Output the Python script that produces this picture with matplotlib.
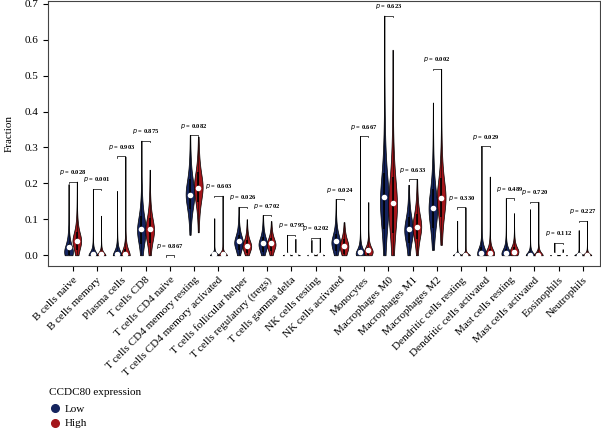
import numpy as np
import matplotlib
matplotlib.use("Agg")
import matplotlib.pyplot as plt
from matplotlib.lines import Line2D

plt.rcParams["font.family"] = ["Liberation Serif", "DejaVu Serif"]

cells = [
    "B cells naive", "B cells memory", "Plasma cells", "T cells CD8", "T cells CD4 naive",
    "T cells CD4 memory resting", "T cells CD4 memory activated", "T cells follicular helper",
    "T cells regulatory (tregs)", "T cells gamma delta", "NK cells resting", "NK cells activated",
    "Monocytes", "Macrophages M0", "Macrophages M1", "Macrophages M2", "Dendritic cells resting",
    "Dendritic cells activated", "Mast cells resting", "Mast cells activated", "Eosinophils",
    "Neutrophils",
]
p_values = ["0.028", "0.001", "0.903", "0.875", "0.867", "0.082", "0.603", "0.026", "0.702",
            "0.795", "0.202", "0.024", "0.667", "0.623", "0.633", "0.002", "0.330", "0.029",
            "0.489", "0.720", "0.112", "0.227"]

# violin summaries: bottom, widest point, spread, top, median
low_lo = [0, 0, 0, 0, 0, 0.057, 0, 0, 0, 0, 0, 0, 0, 0, 0, 0.015, 0, 0, 0, 0, 0, 0]
low_mode = [0.01, 0, 0, 0.07, 0, 0.17, 0, 0.035, 0.03, 0, 0, 0.035, 0.005, 0.15, 0.07, 0.13,
            0, 0.005, 0.005, 0, 0, 0]
low_spread = [0.035, 0.017, 0.022, 0.065, 0, 0.07, 0.009, 0.035, 0.033, 0.003, 0.003, 0.04,
              0.022, 0.13, 0.06, 0.09, 0.006, 0.028, 0.022, 0.013, 0.002, 0.006]
low_hi = [0.198, 0.185, 0.179, 0.319, 0, 0.335, 0.103, 0.135, 0.112, 0.057, 0.043, 0.157,
          0.332, 0.667, 0.196, 0.425, 0.096, 0.304, 0.159, 0.128, 0.035, 0.070]
low_med = [0.022, 0.004, 0.003, 0.074, 0, 0.168, 0.003, 0.041, 0.033, 0, 0, 0.039, 0.010,
           0.162, 0.074, 0.131, 0, 0.005, 0.005, 0, 0, 0]

high_lo = [0, 0, 0, 0, 0, 0.064, 0, 0, 0, 0, 0, 0, 0, 0, 0, 0.029, 0, 0, 0, 0, 0, 0]
high_mode = [0.04, 0, 0, 0.07, 0, 0.19, 0, 0.025, 0.03, 0, 0, 0.025, 0.01, 0.14, 0.08, 0.16,
             0, 0.005, 0.01, 0, 0, 0]
high_spread = [0.042, 0.013, 0.028, 0.058, 0, 0.07, 0.011, 0.03, 0.03, 0.003, 0.004, 0.035,
               0.022, 0.13, 0.06, 0.09, 0.008, 0.022, 0.022, 0.013, 0.002, 0.008]
high_hi = [0.205, 0.11, 0.275, 0.238, 0, 0.330, 0.166, 0.10, 0.095, 0.046, 0.049, 0.092,
           0.148, 0.572, 0.212, 0.519, 0.134, 0.219, 0.117, 0.149, 0.017, 0.096]
high_med = [0.039, 0.004, 0.003, 0.073, 0, 0.188, 0.003, 0.027, 0.033, 0, 0, 0.027, 0.015,
            0.146, 0.079, 0.158, 0, 0.005, 0.009, 0, 0, 0]

LOW_COL = "#15245e"
HIGH_COL = "#a3161b"
HALF_W = 0.18
OFFSET = 0.17


def draw_violin(ax, x, lo, mode, s, hi, med, color):
    if hi <= lo:
        return
    y = np.linspace(lo, hi, 300)
    w = HALF_W / (1 + ((y - mode) / s) ** 2) ** 1.5
    ax.fill_betweenx(y, x - w, x + w, facecolor=color, edgecolor="black", linewidth=0.5, zorder=2)
    # inner box + whisker
    ax.vlines(x, lo, hi, color="black", linewidth=0.4, zorder=3)
    ax.vlines(x, max(lo, mode - 0.6 * s), min(hi, mode + 0.6 * s), color="black",
              linewidth=1.2, zorder=3)
    ax.plot(x, med, "o", color="white", markersize=4, markeredgewidth=0, zorder=4)


fig = plt.figure(figsize=(6.01, 4.32), dpi=100)
ax = fig.add_axes([0.0805, 0.385, 0.9175, 0.613])

xs = np.arange(1, len(cells) + 1)
for i, x in enumerate(xs):
    draw_violin(ax, x - OFFSET, low_lo[i], low_mode[i], low_spread[i], low_hi[i], low_med[i], LOW_COL)
    draw_violin(ax, x + OFFSET, high_lo[i], high_mode[i], high_spread[i], high_hi[i], high_med[i], HIGH_COL)
    top = max(low_hi[i], high_hi[i])
    ax.plot([x - OFFSET, x - OFFSET, x + OFFSET, x + OFFSET],
            [top - 0.004, top, top, top - 0.004], color="black", linewidth=0.5, zorder=3)
    ax.text(x, top + 0.012, r"$\mathit{p}$ = " + p_values[i], ha="center", va="bottom",
            fontsize=4.7, fontweight="bold")

ax.set_xlim(0.0, 22.7)
ax.set_ylim(-0.029, 0.708)
ax.set_xticks(xs)
ax.set_xticklabels(cells, rotation=45, ha="right", rotation_mode="anchor", fontsize=8)
ax.set_yticks(np.arange(0, 0.71, 0.1))
ax.set_yticklabels([f"{v:.1f}" for v in np.arange(0, 0.71, 0.1)], fontsize=8)
ax.set_ylabel("Fraction", fontsize=8, labelpad=8)
for sp in ax.spines.values():
    sp.set_linewidth(0.8)
    sp.set_color("#444444")

handles = [
    Line2D([], [], marker="o", linestyle="", color=LOW_COL, markersize=5.5, label="Low"),
    Line2D([], [], marker="o", linestyle="", color=HIGH_COL, markersize=5.5, label="High"),
]
leg = fig.legend(handles=handles, title="CCDC80 expression", loc="upper left",
                 bbox_to_anchor=(0.065, 0.125), frameon=False, fontsize=8, title_fontsize=8,
                 handletextpad=0.4, labelspacing=0.45, handlelength=1.0)
leg._legend_box.align = "left"
leg._legend_box.sep = 5

fig.savefig("out.png", dpi=100)
